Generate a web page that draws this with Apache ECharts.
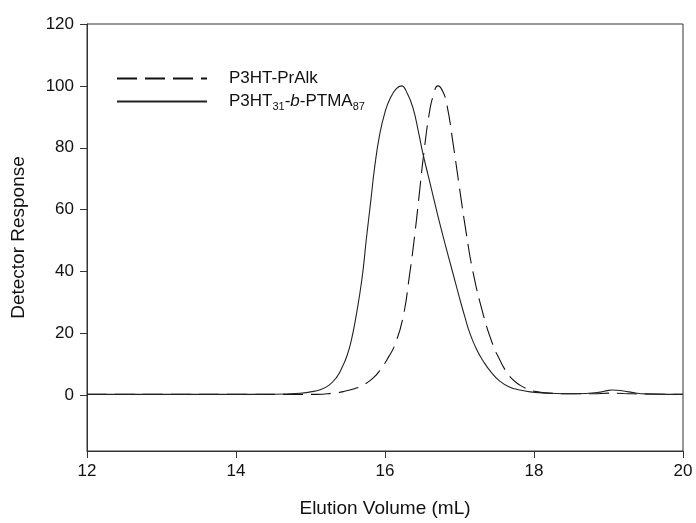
<!DOCTYPE html>
<html>
<head>
<meta charset="utf-8">
<script src="https://cdn.jsdelivr.net/npm/echarts@6/dist/echarts.min.js"></script>
<style>html,body{margin:0;padding:0;background:#fff;}#c{width:696px;height:523px;}</style>
</head>
<body>
<div id="c"></div>
<script>
var xTicks = [12, 14, 16, 18, 20];
var yTicks = [0, 20, 40, 60, 80, 100, 120];

var seriesNames = ['P3HT-PrAlk', 'P3HT31-b-PTMA87'];

var dashX = [12.0, 13.0, 14.0, 15.08, 15.3, 15.44, 15.6, 15.71, 15.85, 15.95, 16.05, 16.13, 16.24, 16.33, 16.40, 16.46, 16.52, 16.60, 16.65, 16.71, 16.77, 16.83, 16.91, 17.00, 17.09, 17.18, 17.32, 17.45, 17.54, 17.63, 17.72, 17.81, 17.92, 18.03, 18.2, 18.5, 18.8, 19.0, 19.2, 19.5, 20.0];
var dashY = [0.3, 0.3, 0.3, 0.3, 0.7, 1.2, 2.2, 3.3, 5.8, 8.7, 12.5, 16.2, 25, 39, 52, 65, 78, 92, 97, 100, 98.5, 94, 82, 67, 52.5, 40, 26, 16.2, 11.5, 7.6, 5, 3.3, 2, 1.2, 0.7, 0.5, 0.5, 0.7, 0.6, 0.4, 0.3];

var solidX = [12.0, 13.0, 14.0, 14.5, 14.86, 15.0, 15.13, 15.25, 15.35, 15.42, 15.49, 15.55, 15.60, 15.69, 15.75, 15.81, 15.86, 15.93, 16.0, 16.07, 16.15, 16.22, 16.30, 16.38, 16.45, 16.51, 16.58, 16.65, 16.72, 16.80, 16.90, 17.00, 17.07, 17.14, 17.23, 17.32, 17.43, 17.54, 17.67, 17.81, 17.95, 18.12, 18.4, 18.7, 18.85, 19.0, 19.05, 19.2, 19.35, 19.5, 19.8, 20.0];
var solidY = [0.3, 0.3, 0.3, 0.35, 0.65, 1.1, 1.8, 3.3, 5.8, 8.8, 12.8, 18, 24, 37.5, 50.6, 63, 73.5, 84.5, 91.5, 96, 99, 100, 97.5, 92.5, 85, 78, 71, 64, 57, 49.5, 40.5, 31.5, 25.5, 20, 14.8, 11, 7.3, 4.6, 2.7, 1.7, 1.1, 0.8, 0.5, 0.6, 0.9, 1.6, 1.7, 1.4, 0.8, 0.45, 0.3, 0.3];

function zip(xs, ys) { return xs.map(function (x, i) { return [x, ys[i]]; }); }

var FONT = '"Liberation Sans", Arial, sans-serif';
var chart = echarts.init(document.getElementById('c'), null, { renderer: 'canvas' });

chart.setOption({
  backgroundColor: '#fff',
  animation: false,
  grid: { left: 87, right: 13, top: 24, bottom: 70, show: true, borderColor: '#333', borderWidth: 1, containLabel: false },
  legend: {
    show: true,
    orient: 'vertical',
    left: 116,
    top: 70,
    padding: 0,
    itemWidth: 90,
    itemHeight: 12,
    itemGap: 6,
    data: seriesNames,
    itemStyle: { color: 'rgba(0,0,0,0)', borderWidth: 0, opacity: 0 },
    formatter: function (n) {
      if (n === 'P3HT-PrAlk') return '{n|P3HT-PrAlk}';
      return '{n|P3HT}{s|31}{n|-}{i|b}{n|-PTMA}{s|87}';
    },
    textStyle: {
      fontFamily: FONT, fontSize: 17, color: '#111', padding: [0, 0, 0, 17],
      rich: {
        n: { fontFamily: FONT, fontSize: 17, color: '#111' },
        i: { fontFamily: FONT, fontSize: 17, color: '#111', fontStyle: 'italic' },
        s: { fontFamily: FONT, fontSize: 11, color: '#111', verticalAlign: 'bottom', padding: [10, 0, 0, 0] }
      }
    }
  },
  xAxis: {
    type: 'value', min: 12, max: 20, interval: 2,
    name: 'Elution Volume (mL)', nameLocation: 'middle', nameGap: 48,
    nameTextStyle: { fontFamily: FONT, fontSize: 19, color: '#111' },
    axisLine: { show: true, onZero: false, lineStyle: { color: '#333', width: 1 } },
    axisTick: { show: true, inside: false, length: 7, lineStyle: { color: '#333' } },
    axisLabel: { fontFamily: FONT, fontSize: 17, color: '#111', margin: 12 },
    splitLine: { show: false }
  },
  yAxis: {
    type: 'value', min: -18, max: 120,
    name: 'Detector Response', nameLocation: 'middle', nameGap: 59, nameRotate: 90,
    nameTextStyle: { fontFamily: FONT, fontSize: 19, color: '#111' },
    axisLine: { show: true, onZero: false, lineStyle: { color: '#333', width: 1 } },
    axisTick: { show: true, inside: false, length: 7, lineStyle: { color: '#333' }, customValues: yTicks },
    axisLabel: { fontFamily: FONT, fontSize: 17, color: '#111', margin: 13, customValues: yTicks },
    splitLine: { show: false }
  },
  series: [
    {
      name: seriesNames[0], type: 'line', data: zip(dashX, dashY),
      showSymbol: false, symbol: 'none', smooth: 0.5,
      lineStyle: { color: '#111', width: 1.1, type: [20, 8] },
      itemStyle: { color: '#111' }
    },
    {
      name: seriesNames[1], type: 'line', data: zip(solidX, solidY),
      showSymbol: false, symbol: 'none', smooth: 0.5,
      lineStyle: { color: '#222', width: 1.1, type: 'solid' },
      itemStyle: { color: '#222' }
    }
  ]
});
</script>
</body>
</html>
